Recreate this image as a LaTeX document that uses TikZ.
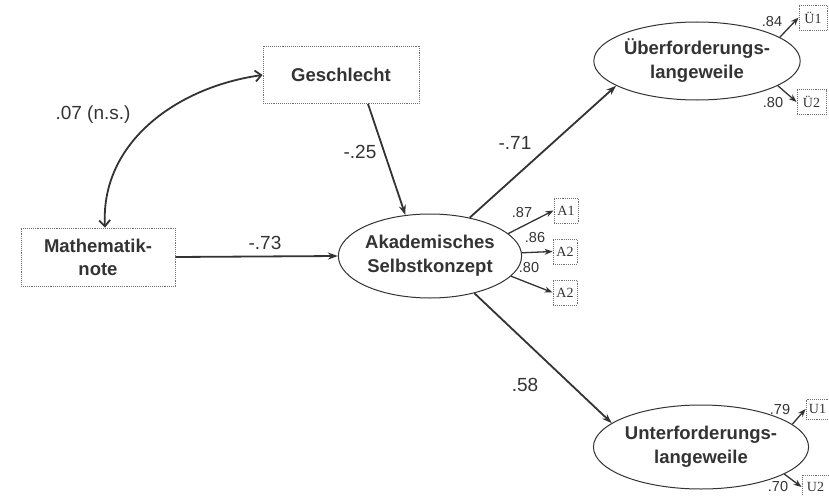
\documentclass[tikz,border=0pt]{standalone}
\usepackage{fontspec}
\setmainfont{Liberation Sans}
\newfontfamily\boxfont{Liberation Serif}
\usetikzlibrary{arrows.meta,shapes.geometric}
\definecolor{ink}{HTML}{333333}
\definecolor{frame}{HTML}{707070}
\tikzset{
  obsbox/.style={draw=frame, densely dotted, line width=0.9pt, rectangle, inner sep=0pt, align=center,
    text=ink, font=\fontsize{18.5}{23}\selectfont\bfseries},
  latent/.style={draw=ink, line width=1pt, ellipse, inner sep=0pt, align=center,
    text=ink, font=\fontsize{18.5}{24}\selectfont\bfseries},
  indbox/.style={draw=frame, densely dotted, line width=0.9pt, rectangle, inner sep=0pt,
    minimum width=25pt, minimum height=25pt, text=ink, font=\boxfont\fontsize{14}{16}\selectfont},
  pathlab/.style={text=ink, font=\fontsize{19}{22}\selectfont, inner sep=0pt},
  smalllab/.style={text=ink, font=\fontsize{14.5}{16}\selectfont, inner sep=0pt},
  mainarrow/.style={draw=ink, line width=1.8pt, -{Stealth[length=10pt,width=7pt]}},
  indarrow/.style={draw=ink, line width=1.3pt, -{Stealth[length=8pt,width=6pt]}},
  corrarrow/.style={draw=ink, line width=1.8pt, {Straight Barb[length=6pt,width=11pt]}-{Straight Barb[length=6pt,width=11pt]}}
}
\begin{document}
\begin{tikzpicture}[x=1pt,y=-1pt]
\useasboundingbox[fill=white] (0,0) rectangle (829,495);
% observed
\node[obsbox, minimum width=156pt, minimum height=57pt] (gesch) at (341,75) {Geschlecht};
\node[obsbox, minimum width=154pt, minimum height=58pt] (mathe) at (98,257) {Mathematik-\\note};
% latent
\node[latent, minimum width=166pt, minimum height=84pt] (akad) at (430,256) {Akademisches\\Selbstkonzept};
\node[latent, minimum width=165pt, minimum height=78pt] (ueber) at (697,61) {Überforderungs-\\langeweile};
\node[latent, minimum width=167pt, minimum height=84pt] (unter) at (701,447) {Unterforderungs-\\langeweile};
% indicators
\node[indbox, minimum width=24pt] (a1) at (566,210.5) {A1};
\node[indbox, minimum width=24pt] (a2) at (565,251.5) {A2};
\node[indbox, minimum width=24pt] (a3) at (565,292.5) {A2};
\node[indbox, minimum width=28pt] (ue1) at (813,17.5) {Ü1};
\node[indbox, minimum width=29pt] (ue2) at (811.5,102) {Ü2};
\node[indbox, minimum width=23pt, minimum height=20pt] (u1) at (817.5,409) {U1};
\node[indbox, minimum width=27pt, minimum height=24pt] (u2) at (815.5,487) {U2};
% connectors
\draw[corrarrow] (gesch.west) to[out=188, in=93] ([xshift=7pt]mathe.north);
\draw[mainarrow] ([xshift=27pt]gesch.south) -- (akad.121);
\draw[mainarrow] (mathe.east) -- (akad.west);
\draw[mainarrow] (akad.44) -- (ueber.197);
\draw[mainarrow] (akad.320) -- (unter.165);
\draw[indarrow] (akad.16) -- (a1.west);
\draw[indarrow] (akad.2) -- (a2.west);
\draw[indarrow] (akad.346) -- (a3.west);
\draw[indarrow] (ueber.16) -- (ue1.west);
\draw[indarrow] (ueber.343) -- (ue2.west);
\draw[indarrow] (unter.14) -- (u1.west);
\draw[indarrow] (unter.342) -- (u2.west);
% labels
\node[pathlab] (l07) at (93,115) {.07 (n.s.)};
\node[pathlab] (l73) at (265,243) {-.73};
\node[pathlab] (l25) at (360,152) {-.25};
\node[pathlab] (l71) at (515,143) {-.71};
\node[pathlab] (l58) at (525,385) {.58};
\node[smalllab] (l87) at (522,213) {.87};
\node[smalllab] (l86) at (535,238) {.86};
\node[smalllab] (l80a) at (529,268) {.80};
\node[smalllab] (l84) at (772,22) {.84};
\node[smalllab] (l80b) at (773,103) {.80};
\node[smalllab] (l79) at (780,410) {.79};
\node[smalllab] (l70) at (778,487) {.70};
\end{tikzpicture}
\end{document}
